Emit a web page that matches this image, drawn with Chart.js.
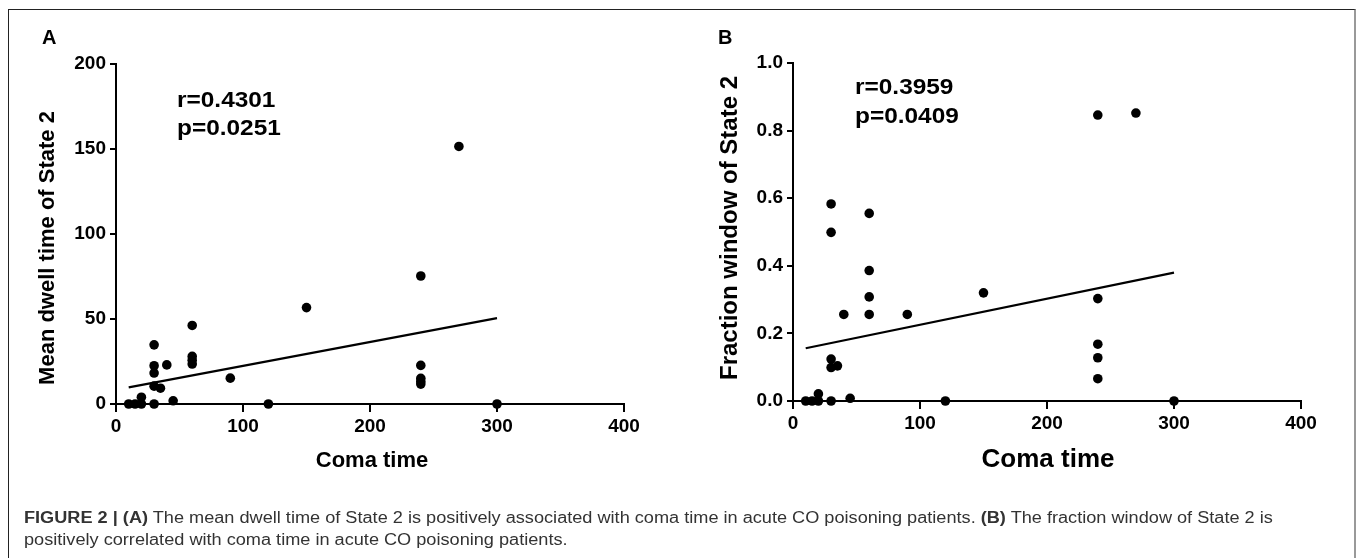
<!DOCTYPE html>
<html>
<head>
<meta charset="utf-8">
<script src="https://cdn.jsdelivr.net/npm/chart.js@4.4.1/dist/chart.umd.min.js"></script>
<style>
  html, body { margin:0; padding:0; background:#fff; }
  body { width:1357px; height:558px; position:relative; overflow:hidden; font-family:"Liberation Sans", Arial, sans-serif; }
  #frame { position:absolute; left:8px; top:9px; width:1345px; height:560px; border-left:1px solid #222; border-top:1.5px solid #222; border-right:2px solid #999; pointer-events:none; }
  canvas { position:absolute; top:0; }
  #cA { left:0; }
  #cB { left:678px; }
  #caption { position:absolute; left:24px; top:507px; font-size:16px; line-height:22px; color:#333; white-space:nowrap; transform:scaleX(1.134); transform-origin:0 0; }
  #caption b { color:#333; }
</style>
</head>
<body>
<canvas id="cA" width="678" height="480"></canvas>
<canvas id="cB" width="679" height="480"></canvas>
<div id="frame"></div>
<div id="caption"><b>FIGURE 2 | (A)</b> The mean dwell time of State 2 is positively associated with coma time in acute CO poisoning patients. <b>(B)</b> The fraction window of State 2 is<br>positively correlated with coma time in acute CO poisoning patients.</div>
<script>
// ---- data ----
const comaA  = [10, 15, 20, 20, 30, 30, 30, 30, 30, 35, 40, 45, 60, 60, 60, 60, 90, 120, 150, 240, 240, 240, 240, 240, 270, 300];
const dwellA = [0, 0, 0, 4, 0, 10.5, 18.2, 22.5, 34.8, 9.3, 23, 1.9, 23.5, 25.8, 28, 46.2, 15.2, 0, 56.7, 11.7, 13.3, 15.1, 22.7, 75.3, 151.5, 0];
const fitAX  = [10, 300];
const fitAY  = [9.8, 50.5];

const comaB  = [10, 15, 20, 20, 30, 30, 30, 30, 30, 35, 40, 45, 60, 60, 60, 60, 90, 120, 150, 240, 240, 240, 240, 240, 270, 300];
const fracB  = [0, 0, 0, 0.021, 0, 0.099, 0.124, 0.499, 0.583, 0.104, 0.256, 0.008, 0.256, 0.308, 0.386, 0.555, 0.256, 0, 0.32, 0.066, 0.128, 0.168, 0.303, 0.846, 0.852, 0];
const fitBX  = [10, 300];
const fitBY  = [0.156, 0.38];

const xTicks  = [0, 100, 200, 300, 400];
const yTicksA = [0, 50, 100, 150, 200];
const yTicksB = [0, 0.2, 0.4, 0.6, 0.8, 1.0];

const panelLetters = ['A', 'B'];
const yTitles = ['Mean dwell time of State 2', 'Fraction window of State 2'];
const xTitle = 'Coma time';
const statsA = ['r=0.4301', 'p=0.0251'];
const statsB = ['r=0.3959', 'p=0.0409'];

const FONT = '"Liberation Sans", Arial, Helvetica, sans-serif';

const textPlugin = {
  id: 'texts',
  afterDraw(chart, args, opts) {
    const ctx = chart.ctx;
    ctx.save();
    ctx.fillStyle = '#000';
    for (const t of opts.items) {
      ctx.save();
      ctx.font = 'bold ' + t.size + 'px ' + FONT;
      ctx.textAlign = t.align || 'left';
      ctx.textBaseline = t.baseline || 'alphabetic';
      ctx.translate(t.x, t.y);
      if (t.sx) ctx.scale(t.sx, 1);
      if (t.rotate) ctx.rotate(t.rotate);
      ctx.fillText(t.text, 0, 0);
      ctx.restore();
    }
    ctx.restore();
  }
};

function pts(xs, ys) { return xs.map((x, i) => ({x: x, y: ys[i]})); }

function makeChart(id, cfg) {
  const axisCommon = {
    type: 'linear',
    border: { display: true, color: '#000', width: 2 },
    grid: { display: true, drawOnChartArea: false, drawTicks: true, color: '#000', lineWidth: 2 },
  };
  return new Chart(document.getElementById(id), {
    data: {
      datasets: [
        { type: 'scatter', data: pts(cfg.xs, cfg.ys), backgroundColor: '#000', borderColor: '#000',
          pointRadius: 4.8, pointHoverRadius: 4.8, borderWidth: 0, clip: false, order: 1 },
        { type: 'line', data: pts(cfg.fitX, cfg.fitY), borderColor: '#000', borderWidth: 2.2,
          pointRadius: 0, fill: false, clip: false, order: 2 }
      ]
    },
    options: {
      responsive: false,
      animation: false,
      events: [],
      layout: { padding: { top: cfg.top, right: cfg.right, left: 0, bottom: 0 } },
      plugins: { legend: { display: false }, tooltip: { enabled: false }, texts: { items: cfg.texts } },
      scales: {
        x: Object.assign({}, axisCommon, {
          min: 0, max: 400,
          grid: Object.assign({}, axisCommon.grid, { tickLength: 8 }),
          afterBuildTicks: s => { s.ticks = xTicks.map(v => ({value: v})); },
          afterFit: s => { s.height = cfg.xH; },
          ticks: { color: '#000', font: { family: FONT, size: 19, weight: 'bold' }, padding: 3, maxRotation: 0,
                   callback: v => String(v) }
        }),
        y: Object.assign({}, axisCommon, {
          min: cfg.ymin, max: cfg.ymax,
          grid: Object.assign({}, axisCommon.grid, { tickLength: 6 }),
          afterBuildTicks: s => { s.ticks = cfg.yTicks.map(v => ({value: v})); },
          afterFit: s => { s.width = cfg.yW; },
          ticks: { color: '#000', font: { family: FONT, size: 19, weight: 'bold' }, padding: 4,
                   callback: cfg.yFmt }
        })
      }
    },
    plugins: [textPlugin]
  });
}

makeChart('cA', {
  xs: comaA, ys: dwellA, fitX: fitAX, fitY: fitAY,
  ymin: 0, ymax: 200, yTicks: yTicksA, yFmt: v => String(v),
  top: 64, right: 54, yW: 116, xH: 76,
  texts: [
    { text: panelLetters[0], x: 42, y: 44, size: 20 },
    { text: yTitles[0], x: 48, y: 248, size: 22, align: 'center', baseline: 'middle', rotate: -Math.PI / 2 },
    { text: statsA[0], x: 177, y: 107, size: 22, sx: 1.11 },
    { text: statsA[1], x: 177, y: 135, size: 22, sx: 1.11 },
    { text: xTitle, x: 372, y: 467, size: 22, align: 'center' }
  ]
});

makeChart('cB', {
  xs: comaB, ys: fracB, fitX: fitBX, fitY: fitBY,
  ymin: 0, ymax: 1, yTicks: yTicksB, yFmt: v => Number(v).toFixed(1),
  top: 63, right: 56, yW: 115, xH: 79,
  texts: [
    { text: panelLetters[1], x: 40, y: 44, size: 20 },
    { text: yTitles[1], x: 52, y: 228, size: 24, align: 'center', baseline: 'middle', rotate: -Math.PI / 2 },
    { text: statsB[0], x: 177, y: 94, size: 22, sx: 1.11 },
    { text: statsB[1], x: 177, y: 123, size: 22, sx: 1.11 },
    { text: xTitle, x: 370, y: 467, size: 26, align: 'center' }
  ]
});
</script>
</body>
</html>
